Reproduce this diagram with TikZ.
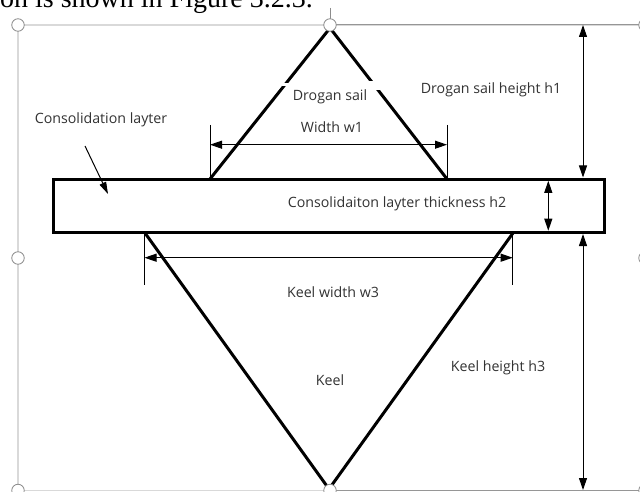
\documentclass[tikz,border=0pt]{standalone}
\usepackage{fontspec}
\setmainfont{Open Sans}
\newfontfamily\captionserif{Liberation Serif}
\usetikzlibrary{arrows.meta}

\definecolor{txtgray}{RGB}{50,50,50}
\definecolor{framecol}{RGB}{217,217,217}
\definecolor{handlecol}{RGB}{140,140,140}
\definecolor{extcol}{RGB}{150,150,150}

\begin{document}
\begin{tikzpicture}[x=1pt,y=-1pt,
  lbl/.style={text=txtgray, font=\fontsize{14.2}{16}\selectfont, inner sep=0pt},
  shapeline/.style={line width=3pt, line join=miter, line cap=butt},
  dimline/.style={line width=1pt,
    {Triangle[length=12pt,width=8pt]}-{Triangle[length=12pt,width=8pt]}},
  pointer/.style={line width=1pt, -{Triangle[length=12pt,width=7pt]}},
  extline/.style={line width=0.9pt},
  framegray/.style={draw=framecol, line width=1.5pt},
  handle/.style={circle, draw=handlecol, fill=white, line width=0.8pt,
    minimum size=12.5pt, inner sep=0pt}
]
\useasboundingbox (0,0) rectangle (640,492);
\clip (0,0) rectangle (640,492);

% caption line of the surrounding page
\node[anchor=base east, inner sep=0pt, text=black,
  font=\captionserif\fontsize{28}{32}\selectfont] (pagecap) at (313,8)
  {on is shown in Figure 3.2.3.};

% selection frame of the drawing canvas
\draw[framegray] (18,490.5) -- (18,25) -- (640,25);
\draw[framegray] (18,490.5) -- (330,490.5);
\draw[extcol, line width=1pt] (330,25) -- (640,25);
\draw[extcol, line width=1pt] (330,490.5) -- (640,490.5);
\draw[handlecol, line width=0.8pt] (330.5,8) -- (330.5,19);

% key points of the ridge section
\coordinate (apex) at (330,28);
\coordinate (sailL) at (210,179);
\coordinate (sailR) at (447,179);
\coordinate (keelL) at (145,233);
\coordinate (keelR) at (513,233);
\coordinate (keelTip) at (329,489);

% drogan sail
\draw[shapeline] (sailL) -- (apex) -- (sailR);
\fill[white] (282,83) rectangle (290,86.5);
\fill[white] (368,81.5) rectangle (382,90.5);

% consolidated layer
\node[draw, line width=3.2pt, fill=white, inner sep=0pt,
  minimum width=551pt, minimum height=53pt] (layer) at (328.75,205.75) {};

% keel
\draw[shapeline] (keelL) -- (keelTip) -- (keelR);

% width of the sail
\coordinate (w1a) at (210,125);
\coordinate (w1b) at (447,125);
\draw[extline] (w1a) -- (sailL);
\draw[extline] (w1b) -- (sailR);
\coordinate (w1L) at (210,144.7);
\coordinate (w1R) at (447,144.7);
\draw[dimline] (w1L) -- (w1R);

% width of the keel
\coordinate (w3a) at (144.5,285);
\coordinate (w3b) at (512.7,285);
\draw[extline] (144.5,233) -- (w3a);
\draw[extline] (512.7,233) -- (w3b);
\coordinate (w3L) at (144.5,257.7);
\coordinate (w3R) at (512.7,257.7);
\draw[dimline] (w3L) -- (w3R);

% heights
\coordinate (h1top) at (583,25);
\coordinate (h1bot) at (583,177.5);
\draw[dimline] (h1top) -- (h1bot);
\coordinate (h2top) at (548.3,180.8);
\coordinate (h2bot) at (548.3,230.7);
\draw[dimline] (h2top) -- (h2bot);
\coordinate (h3top) at (583,234);
\coordinate (h3bot) at (583,490);
\draw[dimline] (h3top) -- (h3bot);

% labels
\node[lbl] (consLbl) at (101,120) {Consolidation layter};
\node[lbl] (sailLbl) at (330,97) {Drogan sail};
\node[lbl] (w1Lbl) at (332,127) {Width w1};
\node[lbl] (h1Lbl) at (491,90) {Drogan sail height h1};
\node[lbl] (h2Lbl) at (397,204) {Consolidaiton layter thickness h2};
\node[lbl] (w3Lbl) at (333,292) {Keel width w3};
\node[lbl] (keelLbl) at (330,380) {Keel};
\node[lbl] (h3Lbl) at (498,368) {Keel height h3};

% pointer from the layer label
\coordinate (ptrStart) at (85,146);
\coordinate (ptrEnd) at (108,194);
\draw[pointer] (ptrStart) -- (ptrEnd);

% sizing handles
\node[handle] (hTL) at (18,25) {};
\node[handle] (hTM) at (330,25) {};
\node[handle] (hTR) at (645,25) {};
\node[handle] (hML) at (18,258) {};
\node[handle] (hMR) at (645,258) {};
\node[handle] (hBL) at (18,490.5) {};
\node[handle] (hBM) at (330,490.5) {};
\node[handle] (hBR) at (645,490.5) {};
\end{tikzpicture}
\end{document}
